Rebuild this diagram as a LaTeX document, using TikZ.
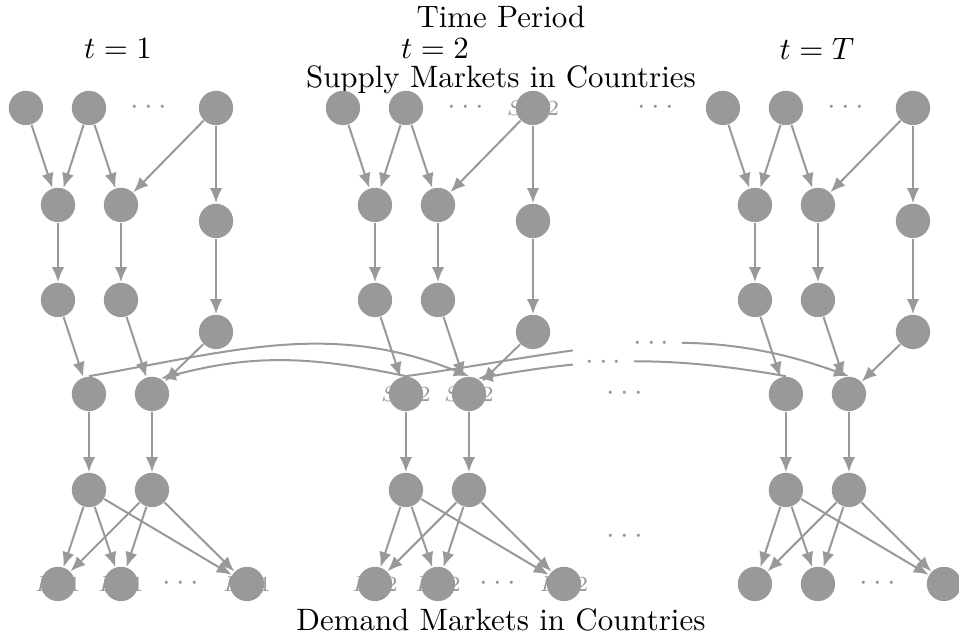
\documentclass[tikz,border=0pt]{standalone}
\usetikzlibrary{arrows.meta}
\definecolor{mktgray}{gray}{0.6}

\begin{document}
\begin{tikzpicture}[
  mkt/.style={circle, fill=mktgray, inner sep=0pt, minimum size=3.9mm},
  flow/.style={-{Latex[length=1.7mm,width=1.4mm]}, line width=0.65pt, draw=mktgray},
  lbl/.style={text=mktgray, font=\scriptsize, inner sep=0pt},
  dots/.style={text=mktgray},
  gap/.style={text=mktgray, fill=white, inner sep=4pt}
]
\useasboundingbox (0,0) rectangle (10.898,7.227);

\node (title) at (5.693,7.034) {Time Period};
\node (t1) at (1.341,6.676) {$t=1$};
\node (t2) at (4.943,6.676) {$t=2$};
\node (tT) at (9.284,6.676) {$t=T$};
\node (sup) at (5.693,6.318) {Supply Markets in Countries};
\node (dem) at (5.693,0.182) {Demand Markets in Countries};

\foreach \p/\dx in {1/0, 2/3.602, T/7.920}{
\begin{scope}[xshift=\dx cm]
\node[mkt] (s1-\p) at (0.295,6.0) {};
\node[mkt] (s2-\p) at (1.011,6.0) {};
\node[dots] (sd-\p) at (1.693,6.0) {$\cdots$};
\node[mkt] (s3-\p) at (2.455,6.0) {};
\node[mkt] (a1-\p) at (0.659,4.898) {};
\node[mkt] (a2-\p) at (1.375,4.898) {};
\node[mkt] (a3-\p) at (2.455,4.716) {};
\node[mkt] (b1-\p) at (0.659,3.818) {};
\node[mkt] (b2-\p) at (1.375,3.818) {};
\node[mkt] (b3-\p) at (2.455,3.455) {};
\node[mkt] (c1-\p) at (1.011,2.75) {};
\node[mkt] (c2-\p) at (1.727,2.75) {};
\node[mkt] (e1-\p) at (1.011,1.659) {};
\node[mkt] (e2-\p) at (1.727,1.659) {};
\node[mkt] (d1-\p) at (0.659,0.591) {};
\node[mkt] (d2-\p) at (1.375,0.591) {};
\node[dots] (dd-\p) at (2.057,0.591) {$\cdots$};
\node[mkt] (d3-\p) at (2.807,0.591) {};
\foreach \u/\v in {s1/a1, s2/a1, s2/a2, s3/a2, s3/a3, a1/b1, a2/b2, a3/b3,
  b1/c1, b2/c2, b3/c2, c1/e1, c2/e2, e1/d1, e1/d2, e1/d3, e2/d1, e2/d2, e2/d3}
  \draw[flow] (\u-\p) -- (\v-\p);
\end{scope}}

\node[dots] (md1) at (7.455,6.0) {$\cdots$};
\node[dots] (md2) at (7.102,2.75) {$\cdots$};
\node[dots] (md3) at (7.102,1.125) {$\cdots$};

\draw[flow] (c1-1.north) to[out=10, in=158] (c2-2.north);
\draw[flow] (c1-2.north) to[out=168, in=15] (c2-1.60);
\draw[flow] (c1-2.north) to[out=8, in=160] node[gap, pos=0.55] {$\cdots$} (c2-T.north);
\draw[flow] (c1-T.north) to[out=170, in=10] node[gap, pos=0.6] {$\cdots$} (c2-2.60);

\node[lbl] at (s3-2) {$S\,n\,2$};
\node[lbl] at (c1-2) {$S\,1\,2$};
\node[lbl] at (c2-2) {$S\,2\,2$};
\node[lbl] at (d1-1) {$D11$};
\node[lbl] at (d2-1) {$D21$};
\node[lbl] at (d3-1) {$Dn1$};
\node[lbl] at (d1-2) {$D12$};
\node[lbl] at (d2-2) {$D22$};
\node[lbl] at (d3-2) {$Dn2$};

\end{tikzpicture}
\end{document}
